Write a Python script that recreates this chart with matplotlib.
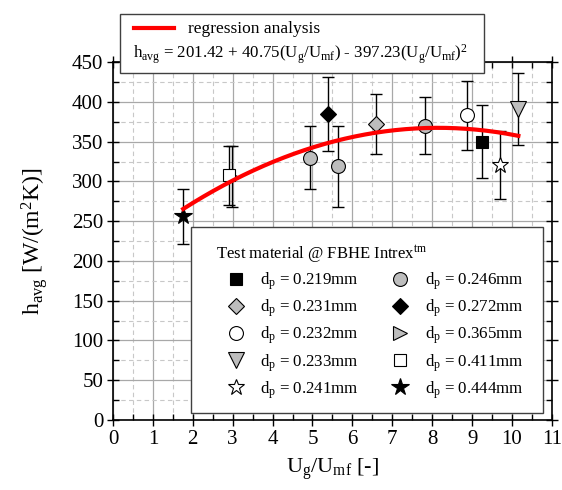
import numpy as np
import matplotlib
matplotlib.use('Agg')
import matplotlib.pyplot as plt
from matplotlib.lines import Line2D
from matplotlib.patches import Rectangle
from matplotlib.ticker import MultipleLocator

plt.rcParams['font.family'] = ['Liberation Serif', 'DejaVu Serif']
plt.rcParams['mathtext.fontset'] = 'custom'
plt.rcParams['mathtext.rm'] = 'Liberation Serif'
plt.rcParams['mathtext.default'] = 'regular'

# данные (Ug/Umf, h_avg, погрешность) для каждого размера частиц
sizes = ['0.219', '0.231', '0.232', '0.233', '0.241',
         '0.246', '0.272', '0.365', '0.411', '0.444']
x_vals = [[9.24], [6.59], [8.88], [10.16], [9.70],
          [4.95, 5.63, 7.83], [5.38], [2.98], [2.90], [1.76]]
h_vals = [[350], [372], [383], [391], [321],
          [330, 319, 370], [385], [306], [308], [256]]
h_err = [[46], [38], [43], [45], [43],
         [40, 51, 36], [47], [38], [37], [35]]
markers = ['s', 'D', 'o', 'v', '*', 'o', 'D', '>', 's', '*']
faces = ['black', '#bdbdbd', 'white', '#bdbdbd', 'white',
         '#bdbdbd', 'black', '#bdbdbd', 'white', 'black']
msizes = [9, 8, 10, 11, 12, 10, 8, 10, 9, 13]

# регрессия
reg_coef = [201.42, 40.75, -2.5]
reg_range = [1.76, 10.16]

fig = plt.figure(figsize=(5.62, 4.9), dpi=100)
ax = fig.add_axes([0.201, 0.143, 0.781, 0.730])

ax.set_xlim(0, 11)
ax.set_ylim(0, 450)
ax.xaxis.set_major_locator(MultipleLocator(1))
ax.xaxis.set_minor_locator(MultipleLocator(0.5))
ax.yaxis.set_major_locator(MultipleLocator(50))
ax.yaxis.set_minor_locator(MultipleLocator(25))
ax.grid(which='major', color='#a8a8a8', lw=0.9, ls='-', zorder=0)
ax.grid(which='minor', color='#c8c8c8', lw=0.8, ls=(0, (4, 3)), zorder=0)
ax.set_axisbelow(True)

ax.tick_params(which='both', top=True, right=True, labelsize=15, width=1.0)
ax.tick_params(which='major', direction='inout', length=8, pad=3)
ax.tick_params(which='minor', direction='in', length=4)
for s in ax.spines.values():
    s.set_linewidth(1.2)

handles = []
for i in range(len(sizes)):
    ax.errorbar(x_vals[i], h_vals[i], yerr=h_err[i], fmt='none',
                ecolor='black', elinewidth=1.0, capsize=4, capthick=1.0, zorder=2)
    ax.plot(x_vals[i], h_vals[i], ls='none', marker=markers[i], ms=msizes[i],
            mfc=faces[i], mec='black', mew=0.8, zorder=3)
    handles.append(Line2D([], [], ls='none', marker=markers[i], ms=msizes[i],
                          mfc=faces[i], mec='black', mew=0.8,
                          label='d$_p$ = ' + sizes[i] + 'mm'))

xr = np.linspace(reg_range[0], reg_range[1], 200)
yr = reg_coef[0] + reg_coef[1] * xr + reg_coef[2] * xr ** 2
ax.plot(xr, yr, color='red', lw=3, zorder=4)

ax.set_xlabel('U$_g$/U$_{mf}$ [-]', fontsize=16, labelpad=6)
ax.set_ylabel('h$_{avg}$ [W/(m$^2$K)]', fontsize=17, labelpad=16)

# рамка легенды отдельно
frame = Rectangle((0.178, 0.02), 0.801, 0.519, transform=ax.transAxes,
                  facecolor='white', edgecolor='#404040', lw=1.0, zorder=5)
ax.add_patch(frame)
leg = ax.legend(handles=handles, ncol=2, loc='upper left',
                bbox_to_anchor=(0.235, 0.494), borderaxespad=0,
                title='Test material @ FBHE Intrex$^{tm}$', title_fontsize=12,
                fontsize=12.2, frameon=False, alignment='left',
                handletextpad=0.3, labelspacing=0.33,
                columnspacing=1.3, borderpad=0, handlelength=2.3)
leg.set_zorder(6)

# верхняя легенда (регрессия)
box = Rectangle((120 / 562, 1 - 73 / 490), 364 / 562, 59 / 490,
                transform=fig.transFigure, facecolor='white',
                edgecolor='#404040', lw=1.0, zorder=10)
fig.patches.append(box)
fig.lines.append(Line2D([134 / 562, 174 / 562], [1 - 28 / 490, 1 - 28 / 490],
                        transform=fig.transFigure, color='red', lw=3, zorder=11))
fig.text(188 / 562, 1 - 29 / 490, 'regression analysis', fontsize=12.5,
         va='center', ha='left', zorder=12)
fig.text(133 / 562, 1 - 54 / 490,
         'h$_{avg}$ = 201.42 + 40.75(U$_g$/U$_{mf}$) - 397.23(U$_g$/U$_{mf}$)$^2$',
         fontsize=12.2, va='center', ha='left', zorder=12)

fig.savefig('out.png', dpi=100)
